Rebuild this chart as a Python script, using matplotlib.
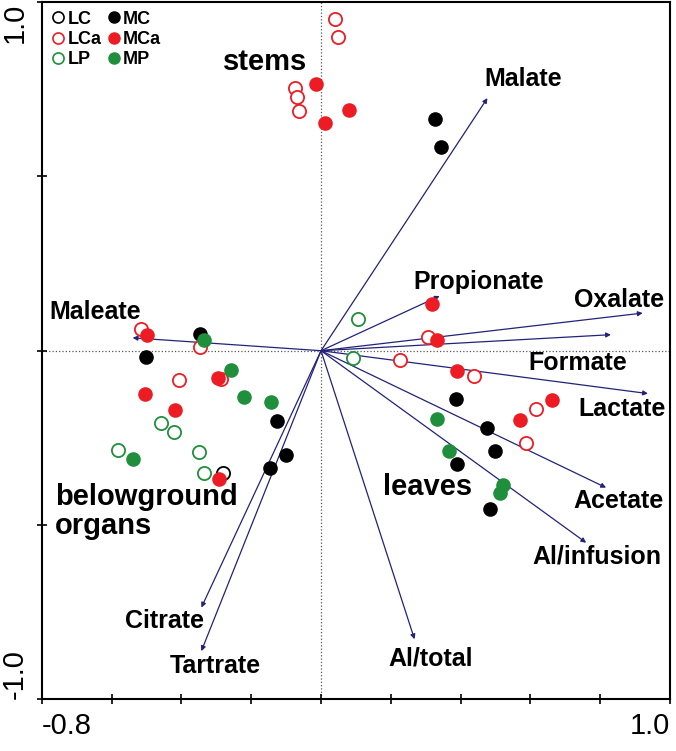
import numpy as np
import matplotlib
matplotlib.use('Agg')
import matplotlib.pyplot as plt
from matplotlib.lines import Line2D

plt.rcParams['font.family'] = ['Liberation Sans', 'DejaVu Sans']

# sample scores (PC1, PC2)
LC_x = [-0.281]
LC_y = [-0.350]
LCa_x = [0.039, 0.050, -0.076, -0.069, -0.062, -0.516, -0.347, -0.288, -0.408,
         0.307, 0.226, 0.439, 0.617, 0.588]
LCa_y = [0.951, 0.901, 0.753, 0.729, 0.689, 0.063, 0.011, -0.080, -0.085,
         0.039, -0.028, -0.072, -0.168, -0.264]
LP_x = [0.106, 0.091, -0.460, -0.422, -0.581, -0.350, -0.336]
LP_y = [0.092, -0.020, -0.207, -0.233, -0.286, -0.292, -0.350]
MC_x = [0.326, 0.343, -0.346, -0.503, -0.127, -0.101, -0.146, 0.387, 0.475,
        0.500, 0.391, 0.485]
MC_y = [0.665, 0.584, 0.049, -0.018, -0.201, -0.298, -0.338, -0.138, -0.221,
        -0.289, -0.324, -0.453]
MCa_x = [-0.014, 0.081, 0.010, -0.500, -0.295, -0.504, -0.418, -0.293, 0.317,
         0.332, 0.391, 0.662, 0.571]
MCa_y = [0.765, 0.691, 0.653, 0.046, -0.077, -0.123, -0.171, -0.367, 0.133,
         0.032, -0.059, -0.140, -0.200]
MP_x = [-0.336, -0.257, -0.220, -0.143, -0.538, 0.332, 0.368, 0.521, 0.513]
MP_y = [0.032, -0.054, -0.133, -0.147, -0.312, -0.197, -0.289, -0.386, -0.408]

# variable loadings (arrow tips) and where their names sit
var_names = ['Malate', 'Propionate', 'Oxalate', 'Formate', 'Lactate', 'Acetate',
             'Al/infusion', 'Al/total', 'Citrate', 'Tartrate', 'Maleate']
var_x = [0.477, 0.340, 0.922, 0.831, 0.937, 0.817, 0.760, 0.268, -0.343, -0.343, -0.540]
var_y = [0.725, 0.157, 0.108, 0.046, -0.123, -0.393, -0.551, -0.828, -0.737, -0.862, 0.037]
lab_x = [0.580, 0.451, 0.855, 0.735, 0.864, 0.852, 0.792, 0.314, -0.448, -0.302, -0.646]
lab_y = [0.779, 0.198, 0.146, -0.034, -0.166, -0.430, -0.590, -0.883, -0.777, -0.905, 0.112]

red = '#ed1c24'
green = '#1f8f3c'
navy = '#22227a'

fig = plt.figure(figsize=(6.76, 7.51), dpi=100)
ax = fig.add_axes([0.062, 0.069, 0.929, 0.928])

ax.axhline(0, color='#555555', lw=0.9, ls=':', zorder=1)
ax.axvline(0, color='#555555', lw=0.9, ls=':', zorder=1)

for i in range(len(var_names)):
    ax.annotate('', xy=(var_x[i], var_y[i]), xytext=(0, 0),
                arrowprops=dict(arrowstyle='-|>', color=navy, lw=0.9,
                                mutation_scale=7, shrinkA=0, shrinkB=0),
                zorder=2)
    ax.text(lab_x[i], lab_y[i], var_names[i], fontsize=18, fontweight='bold',
            ha='center', va='center', zorder=4)

ms = 90
ax.scatter(LCa_x, LCa_y, s=ms, facecolors='white', edgecolors=red, linewidths=1.3, zorder=3)
ax.scatter(LP_x, LP_y, s=ms, facecolors='white', edgecolors=green, linewidths=1.3, zorder=3)
ax.scatter(LC_x, LC_y, s=ms, facecolors='white', edgecolors='black', linewidths=1.3, zorder=3)
ax.scatter(MC_x, MC_y, s=ms, color='black', zorder=3)
ax.scatter(MP_x, MP_y, s=ms, color=green, zorder=3)
ax.scatter(MCa_x, MCa_y, s=ms, color=red, zorder=3)

# group names
ax.text(-0.160, 0.829, 'stems', fontsize=21, fontweight='bold', ha='center', va='center')
ax.text(0.305, -0.390, 'leaves', fontsize=21, fontweight='bold', ha='center', va='center')
ax.text(-0.762, -0.462, 'belowground\norgans', fontsize=21, fontweight='bold',
        ha='left', va='center', linespacing=1.05)

handles = [
    Line2D([], [], ls='', marker='o', ms=8, mfc='white', mec='black', mew=1.2),
    Line2D([], [], ls='', marker='o', ms=8, mfc='white', mec=red, mew=1.2),
    Line2D([], [], ls='', marker='o', ms=8, mfc='white', mec=green, mew=1.2),
    Line2D([], [], ls='', marker='o', ms=8, mfc='black', mec='black'),
    Line2D([], [], ls='', marker='o', ms=8, mfc=red, mec=red),
    Line2D([], [], ls='', marker='o', ms=8, mfc=green, mec=green),
]
labels = ['LC', 'LCa', 'LP', 'MC', 'MCa', 'MP']
ax.legend(handles, labels, ncol=2, loc='upper left', bbox_to_anchor=(-0.004, 1.006),
          frameon=False, handlelength=0.7, handletextpad=0.15, columnspacing=0.35,
          labelspacing=0.18, borderpad=0.2, prop={'weight': 'bold', 'size': 13})

ax.set_xlim(-0.8, 1.0)
ax.set_ylim(-1.0, 1.0)

xt = np.round(np.arange(-0.8, 1.01, 0.2), 1)
ax.set_xticks(xt)
ax.set_xticklabels(['-0.8'] + [''] * (len(xt) - 2) + ['1.0'], fontsize=21)
xl = ax.get_xticklabels()
xl[0].set_ha('left')
xl[-1].set_ha('right')

yt = [-1.0, -0.5, 0.0, 0.5, 1.0]
ax.set_yticks(yt)
ax.set_yticklabels(['-1.0', '', '', '', '1.0'], fontsize=21, rotation=90)
yl = ax.get_yticklabels()
yl[0].set_va('bottom')
yl[-1].set_va('top')

ax.tick_params(direction='inout', length=7, width=1.2, pad=6)
for sp in ax.spines.values():
    sp.set_linewidth(1.5)

fig.savefig('out.png', dpi=100)
